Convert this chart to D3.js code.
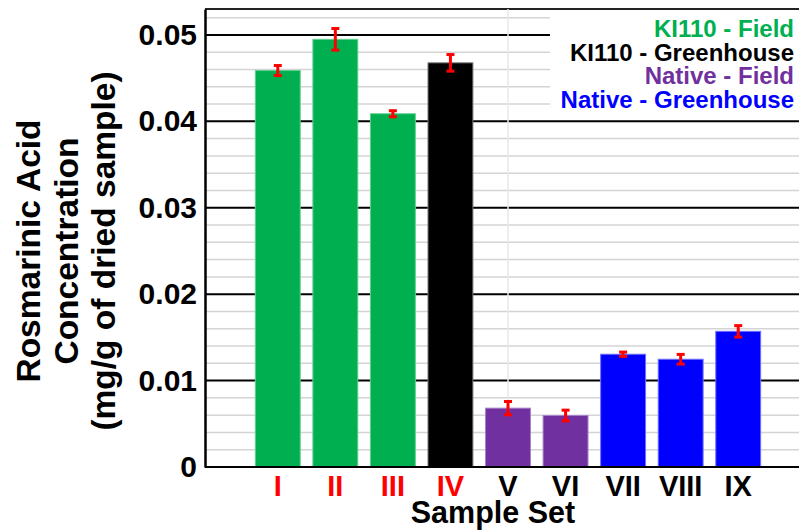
<!DOCTYPE html>
<html>
<head>
<meta charset="utf-8">
<script src="https://cdn.jsdelivr.net/npm/d3@7"></script>
<style>
  body { margin: 0; background: #fff; }
  text { font-family: "Liberation Sans", Arial, sans-serif; font-weight: bold; }
</style>
</head>
<body>
<svg id="chart" width="799" height="531"></svg>
<script>
const samples = ["I", "II", "III", "IV", "V", "VI", "VII", "VIII", "IX"]
const values = [0.04588, 0.04949, 0.04088, 0.04677, 0.00681, 0.00596, 0.01305, 0.01247, 0.0157]
const errors = [0.00058, 0.00125, 0.00035, 0.00096, 0.00077, 0.00062, 0.00025, 0.00056, 0.00066]
const groups = ["kf", "kf", "kf", "kg", "nf", "nf", "ng", "ng", "ng"]
const yTicks = [0, 0.01, 0.02, 0.03, 0.04, 0.05]
const legendLabels = ["KI110 - Field", "KI110 - Greenhouse", "Native - Field", "Native - Greenhouse"]
const legendKeys = ["kf", "kg", "nf", "ng"]

const fill = { kf: "#00B050", kg: "#000000", nf: "#7030A0", ng: "#0000FF" }
const edge = { kf: "#5fd08f", kg: "#777777", nf: "#a57fc8", ng: "#6f6fff" }

const svg = d3.select("#chart")
const plot = { left: 205, top: 9, right: 799, bottom: 467 }

const y = d3.scaleLinear().domain([0, 0.053]).range([plot.bottom, plot.top])
const x = d3.scaleBand()
  .domain(samples)
  .range([249, 767])
  .paddingInner(0.22)
  .paddingOuter(0.11)

// minor gridlines
const minor = d3.range(0.002, 0.053, 0.002).filter(v => Math.abs(v * 100 - Math.round(v * 100)) > 1e-6)
svg.append("g").selectAll("line").data(minor).enter().append("line")
  .attr("x1", plot.left).attr("x2", plot.right)
  .attr("y1", d => y(d)).attr("y2", d => y(d))
  .attr("stroke", "#d4d4d4").attr("stroke-width", 1.5)

// major gridlines
svg.append("g").selectAll("line").data(yTicks.slice(1)).enter().append("line")
  .attr("x1", plot.left).attr("x2", plot.right)
  .attr("y1", d => y(d)).attr("y2", d => y(d))
  .attr("stroke", "#000").attr("stroke-width", 2)

// top border
svg.append("line")
  .attr("x1", plot.left).attr("x2", plot.right)
  .attr("y1", plot.top).attr("y2", plot.top)
  .attr("stroke", "#222").attr("stroke-width", 2)

// stray light vertical line above V
svg.append("line")
  .attr("x1", x("V") + x.bandwidth() / 2).attr("x2", x("V") + x.bandwidth() / 2)
  .attr("y1", plot.top).attr("y2", y(values[4]))
  .attr("stroke", "#e8e8e8").attr("stroke-width", 1.5)

// legend box
const legend = svg.append("g")
legend.append("rect")
  .attr("x", 550).attr("y", 11).attr("width", 249).attr("height", 108)
  .attr("fill", "#fff")
legend.selectAll("text").data(legendLabels).enter().append("text")
  .attr("x", 794)
  .attr("y", (d, i) => 37 + i * 23.5)
  .attr("text-anchor", "end")
  .attr("font-size", 24)
  .attr("fill", (d, i) => fill[legendKeys[i]])
  .text(d => d)

// bars
svg.append("g").selectAll("rect").data(samples).enter().append("rect")
  .attr("x", d => x(d))
  .attr("y", (d, i) => y(values[i]))
  .attr("width", x.bandwidth())
  .attr("height", (d, i) => plot.bottom - y(values[i]))
  .attr("fill", (d, i) => fill[groups[i]])
  .attr("stroke", (d, i) => edge[groups[i]])
  .attr("stroke-width", 1)

// error bars
const eb = svg.append("g").attr("stroke", "#FF0000").attr("stroke-width", 3)
samples.forEach((s, i) => {
  const cx = x(s) + x.bandwidth() / 2
  const y1 = y(values[i] + errors[i]), y2 = y(values[i] - errors[i])
  eb.append("line").attr("x1", cx).attr("x2", cx).attr("y1", y1).attr("y2", y2)
  eb.append("line").attr("x1", cx - 4).attr("x2", cx + 4).attr("y1", y1).attr("y2", y1)
  eb.append("line").attr("x1", cx - 4).attr("x2", cx + 4).attr("y1", y2).attr("y2", y2)
})

// x axis baseline
svg.append("line")
  .attr("x1", plot.left).attr("x2", plot.right)
  .attr("y1", plot.bottom).attr("y2", plot.bottom)
  .attr("stroke", "#000").attr("stroke-width", 2)

// y axis
const yAxis = svg.append("g")
  .attr("transform", `translate(${plot.left},0)`)
  .call(d3.axisLeft(y).tickValues(yTicks).tickSize(0).tickPadding(8)
    .tickFormat(d => d === 0 ? "0" : d3.format(".2f")(d)))
yAxis.select(".domain").attr("stroke", "#000").attr("stroke-width", 2.5)
yAxis.selectAll("text").attr("font-size", 30).attr("fill", "#000")
  .style("font-family", "'Liberation Sans', Arial, sans-serif").style("font-weight", "bold")

// x axis labels
const xAxis = svg.append("g")
  .attr("transform", `translate(0,${plot.bottom})`)
  .call(d3.axisBottom(x).tickSize(0).tickPadding(8))
xAxis.select(".domain").remove()
xAxis.selectAll("text").attr("font-size", 29)
  .attr("fill", (d, i) => i < 4 ? "#FF0000" : "#000")
  .style("font-family", "'Liberation Sans', Arial, sans-serif").style("font-weight", "bold")

// axis titles
svg.append("text")
  .attr("x", 493).attr("y", 523)
  .attr("text-anchor", "middle").attr("font-size", 30.5)
  .text("Sample Set")

const yTitle = ["Rosmarinic Acid", "Concentration", "(mg/g of dried sample)"]
svg.append("g").selectAll("text").data(yTitle).enter().append("text")
  .attr("transform", (d, i) => `translate(${40 + i * 37.5},251) rotate(-90)`)
  .attr("text-anchor", "middle").attr("font-size", 33.5)
  .text(d => d)
</script>
</body>
</html>
